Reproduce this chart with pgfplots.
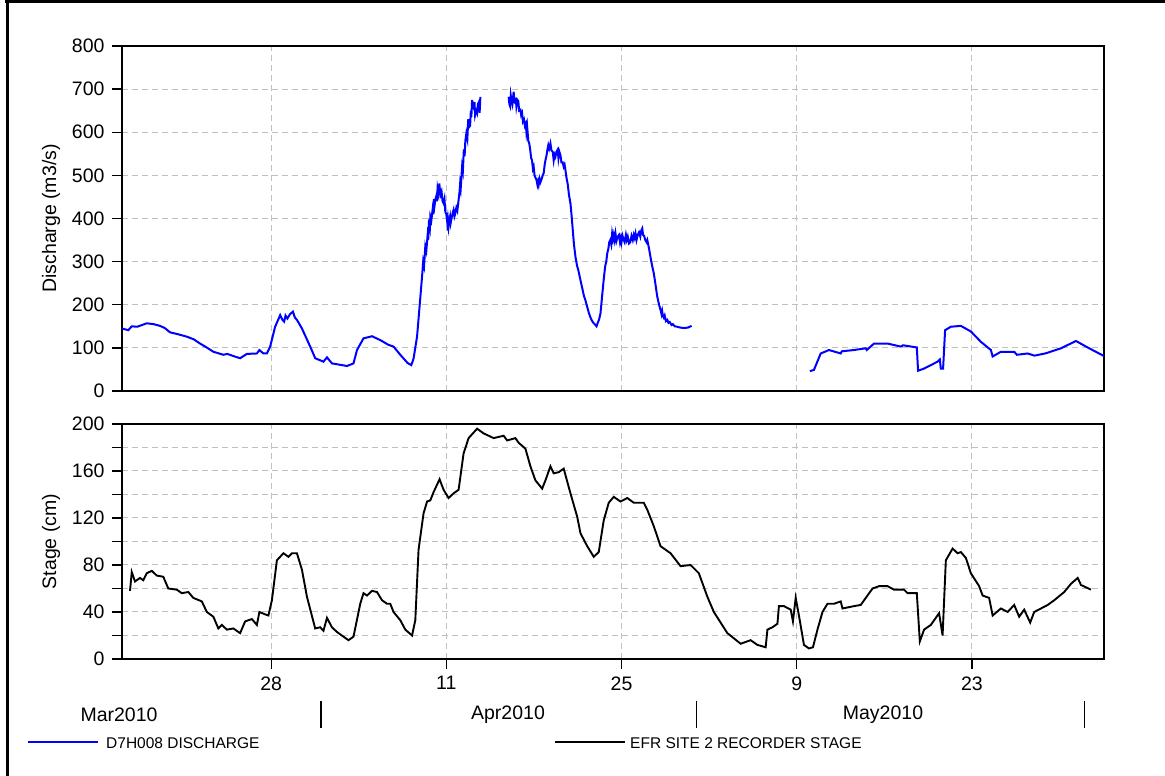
\documentclass[border=0pt]{standalone}
\usepackage{fontspec}
\setmainfont{Liberation Sans}
\usepackage{pgfplots}
\pgfplotsset{compat=1.18}
\definecolor{gridgray}{RGB}{192,192,192}

% x is days counted from 1 March 2010 (Mar 1 = 0)
\pgfplotsset{
  hydro/.style={
    scale only axis, width=982bp,
    xmin=15.08, xmax=93.56,
    axis line style={line width=1.5bp},
    tick align=outside,
    xtick pos=bottom, ytick pos=left,
    major tick length=10bp, minor tick length=10bp,
    tick style={black, line width=1.3bp},
    xtick={27,41,55,69,83},
    xmajorgrids, ymajorgrids,
    grid style={gridgray, line width=1bp, dash pattern=on 6bp off 4bp},
    /pgf/number format/assume math mode=true,
    tick label style={font=\fontsize{19.5bp}{22bp}\selectfont},
    yticklabel style={xshift=-4bp},
    xticklabel style={yshift=-4bp},
  }
}

\begin{document}
\begin{tikzpicture}
\useasboundingbox (0,0) rectangle (1165bp,776bp);
\draw[line width=2.7bp] (5bp,774.65bp) -- (1165bp,774.65bp);
\draw[line width=2.7bp] (7.3bp,0bp) -- (7.3bp,776bp);

% ---------------- discharge ----------------
\begin{axis}[hydro, at={(122bp,385bp)}, anchor=south west, height=345bp,
  ymin=0, ymax=800, ytick={0,100,...,800},
  xticklabels={}, xtick style={draw=none}]
\addplot[blue, line width=2bp] coordinates {
(15.08,145) (15.58,141) (15.86,150) (16.3,149) (17.06,157) (17.6,155)
(18.12,151) (18.5,146) (18.92,136) (19.5,132) (20.26,126) (20.8,120)
(21.32,110) (21.9,100) (22.38,91) (23.18,84) (23.5,86) (23.98,81)
(24.52,76) (25.06,86) (25.86,87) (26.06,95) (26.38,87) (26.66,87)
(26.92,103) (27.32,149) (27.72,176) (27.9,165) (28.04,161) (28.15,175)
(28.30,168) (28.5,178) (28.74,184) (28.9,170) (29.06,165) (29.46,145)
(30.12,103) (30.52,76) (31.18,68) (31.46,78) (31.86,64) (33.06,58)
(33.58,64) (33.86,95) (34.38,122) (35.06,127) (35.72,118) (36.38,107)
(36.78,103) (37.32,84) (37.9,65) (38.2,60) (38.38,75) (38.66,126)
(39.06,265) (39.15,300) (39.22,290) (39.32,335) (39.4,325) (39.5,360)
(39.55,350) (39.6,385) (39.68,375) (39.72,404) (39.8,395) (39.9,420)
(39.95,410) (40.0,445) (40.06,430) (40.12,443) (40.2,452) (40.25,440)
(40.3,470) (40.38,458) (40.44,481) (40.5,462) (40.55,455) (40.62,462)
(40.7,440) (40.78,435) (40.85,445) (40.92,415) (41.0,410) (41.08,390)
(41.12,400) (41.18,381) (41.25,398) (41.3,405) (41.35,390) (41.4,398)
(41.5,412) (41.58,420) (41.65,405) (41.7,410) (41.8,425) (41.88,418)
(41.98,443) (42.05,460) (42.1,480) (42.15,470) (42.26,520) (42.32,510)
(42.4,560) (42.46,545) (42.52,580) (42.6,597) (42.68,585) (42.75,630)
(42.82,612) (42.9,615) (42.96,650) (43.0,635) (43.06,675) (43.12,660)
(43.2,655) (43.25,670) (43.3,640) (43.38,650) (43.46,644) (43.52,665)
(43.6,670) (43.66,645) (43.72,682)
};
\addplot[blue, line width=2bp] coordinates {
(45.98,682) (46.04,665) (46.1,660) (46.15,685) (46.2,675) (46.28,665)
(46.38,694) (46.44,670) (46.5,668) (46.55,680) (46.6,660) (46.68,675)
(46.75,672) (46.82,650) (46.92,652) (46.98,640) (47.05,645) (47.12,625)
(47.2,630) (47.28,615) (47.35,620) (47.4,600) (47.46,613) (47.55,580)
(47.62,575) (47.7,560) (47.78,540) (47.85,535) (47.92,515) (47.98,520)
(48.05,500) (48.12,495) (48.2,490) (48.28,478) (48.33,485) (48.38,478)
(48.45,492) (48.52,484) (48.6,490) (48.7,500) (48.78,505) (48.86,525)
(48.92,535) (49.0,545) (49.08,560) (49.15,570) (49.22,562) (49.32,574)
(49.4,558) (49.5,555) (49.58,535) (49.65,548) (49.72,543) (49.8,555)
(49.9,560) (49.96,540) (50.03,555) (50.12,547) (50.2,530) (50.3,530)
(50.38,520) (50.45,525) (50.52,512) (50.6,495) (50.7,480) (50.8,455)
(50.92,435) (51.0,410) (51.1,375) (51.2,340) (51.32,311) (51.45,290)
(51.55,280) (51.72,257) (51.85,240) (52.0,220) (52.1,212) (52.26,195)
(52.4,180) (52.5,172) (52.6,165) (52.75,158) (52.92,153) (53.0,150)
(53.1,158) (53.2,165) (53.32,180) (53.45,220) (53.6,265) (53.7,290)
(53.78,300) (53.86,319) (53.95,330) (54.02,345) (54.1,350) (54.18,340)
(54.25,365) (54.32,352) (54.38,362) (54.45,350) (54.52,365) (54.6,348)
(54.7,358) (54.8,362) (54.88,345) (54.95,355) (55.0,345) (55.08,360)
(55.18,350) (55.25,345) (55.35,362) (55.42,350) (55.5,358) (55.6,342)
(55.7,345) (55.8,360) (55.9,350) (55.98,362) (56.05,355) (56.12,365)
(56.2,350) (56.3,362) (56.4,368) (56.5,358) (56.58,372) (56.66,377)
(56.72,362) (56.8,360) (56.9,350) (57.0,345) (57.06,350) (57.2,330)
(57.35,305) (57.45,290) (57.58,273) (57.7,250) (57.85,220) (58.0,200)
(58.12,188) (58.2,178) (58.25,185) (58.3,175) (58.38,170) (58.45,175)
(58.55,162) (58.66,165) (58.75,158) (58.85,160) (59.0,153) (59.1,155)
(59.25,150) (59.46,149) (59.7,147) (60.0,146) (60.3,147) (60.6,151)
};
\addplot[blue, line width=2bp] coordinates {
(70.06,46) (70.38,49) (70.92,87) (71.58,95) (72.52,87) (72.6,92)
(73.58,95) (74.52,99) (74.6,95) (75.18,110) (76.26,110) (77.32,103)
(77.5,106) (78.6,101) (78.70,47) (79.18,52) (80.26,68) (80.44,73)
(80.52,52) (80.70,52) (80.86,141) (81.32,149) (82.12,151) (82.92,138)
(83.72,114) (84.52,95) (84.66,80) (85.32,91) (86.38,91) (86.6,84)
(87.46,87) (88.0,82) (88.86,87) (90.12,99) (91.32,116) (92.12,103)
(93.56,81)
};
\end{axis}

% ---------------- stage ----------------
\begin{axis}[hydro, at={(122bp,117bp)}, anchor=south west, height=235bp,
  ymin=0, ymax=200, ytick={0,40,...,200},
  minor ytick={20,60,...,180}, yminorgrids,
  minor grid style={gridgray, line width=1bp, dash pattern=on 6bp off 4bp},
  xticklabels={28,11,25,9,23}, clip=false]
\addplot[black, line width=1.9bp] coordinates {
(15.72,58) (15.86,74) (16.12,66) (16.52,69) (16.78,67) (17.06,73)
(17.46,75) (17.86,71) (18.38,70) (18.78,60) (19.46,59) (19.86,56)
(20.38,57) (20.78,52) (21.46,49) (21.86,40) (22.38,36) (22.78,26)
(23.06,29) (23.46,25) (23.98,26) (24.52,22) (24.92,32) (25.46,34)
(25.86,29) (26.06,40) (26.52,38) (26.78,37) (27.06,50) (27.46,84)
(27.98,90) (28.38,87) (28.66,90) (29.06,90) (29.46,76) (29.86,53)
(30.52,26) (30.92,27) (31.18,24) (31.46,35) (31.86,27) (32.26,23)
(32.78,19) (33.18,16) (33.58,19) (34.12,47) (34.38,56) (34.66,54)
(35.06,58) (35.46,57) (35.86,50) (36.26,47) (36.52,47) (36.78,40)
(37.32,33) (37.72,25) (38.26,20) (38.52,33) (38.78,93) (39.18,124)
(39.46,134) (39.72,135) (39.98,142) (40.46,153) (40.78,144) (41.18,137)
(41.58,141) (41.98,144) (42.38,175) (42.78,188) (43.46,196) (43.98,192)
(44.78,188) (45.58,190) (45.86,186) (46.52,188) (46.78,184) (47.32,179)
(47.72,164) (48.12,152) (48.66,145) (48.92,152) (49.32,164) (49.58,158)
(49.98,159) (50.38,162) (50.92,141) (51.46,121) (51.72,107) (52.26,96)
(52.78,87) (53.18,91) (53.58,118) (53.98,133) (54.38,138) (54.92,134)
(55.46,137) (55.98,133) (56.78,133) (57.06,127) (57.58,113) (58.12,96)
(58.92,90) (59.72,79) (60.52,80) (61.18,73) (61.86,53) (62.38,40)
(63.46,22) (64.52,13) (65.32,16) (65.86,12) (66.52,10) (66.66,25)
(67.06,27) (67.46,30) (67.58,45) (67.98,45) (68.52,42) (68.70,32)
(68.92,52) (69.18,37) (69.58,12) (69.98,9) (70.30,10) (70.66,25)
(71.06,40) (71.46,47) (71.98,47) (72.52,49) (72.66,43) (73.58,45)
(74.12,46) (74.52,52) (75.06,60) (75.58,62) (76.26,62) (76.78,59)
(77.58,59) (77.86,56) (78.6,56) (78.84,15) (79.18,25) (79.72,29)
(80.38,39) (80.66,20) (80.92,84) (81.46,94) (81.86,90) (82.12,91)
(82.52,86) (82.92,73) (83.58,62) (83.86,54) (84.38,52) (84.66,37)
(85.32,43) (85.86,40) (86.38,46) (86.78,36) (87.18,42) (87.66,31)
(87.98,40) (88.52,43) (89.06,46) (89.58,50) (90.38,57) (90.92,64)
(91.46,69) (91.72,63) (92.52,59)
};
% month separators below the date ticks
\draw[line width=1.5bp] ([yshift=-42bp]axis cs:31,0) -- ([yshift=-69bp]axis cs:31,0);
\draw[line width=1.5bp] ([yshift=-42bp]axis cs:61,0) -- ([yshift=-69bp]axis cs:61,0);
\draw[line width=1.5bp] ([yshift=-42bp]axis cs:92,0) -- ([yshift=-69bp]axis cs:92,0);
\end{axis}

\begin{scope}[font=\fontsize{19.5bp}{22bp}\selectfont]
\node[rotate=90] at (51bp,557.5bp) {Discharge (m3/s)};
\node[rotate=90] at (51bp,234.5bp) {Stage (cm)};
\node at (119bp,61bp) {Mar2010};
\node at (508bp,61bp) {Apr2010};
\node at (883bp,61bp) {May2010};
\end{scope}

% legend
\begin{scope}[font=\fontsize{15.5bp}{18bp}\selectfont]
\draw[blue, line width=1.5bp] (28bp,34bp) -- (98bp,34bp);
\node[anchor=west, inner sep=0pt] at (106bp,33bp) {D7H008 DISCHARGE};
\draw[black, line width=1.5bp] (555bp,34bp) -- (625bp,34bp);
\node[anchor=west, inner sep=0pt] at (630bp,33bp) {EFR SITE 2 RECORDER STAGE};
\end{scope}
\end{tikzpicture}
\end{document}
